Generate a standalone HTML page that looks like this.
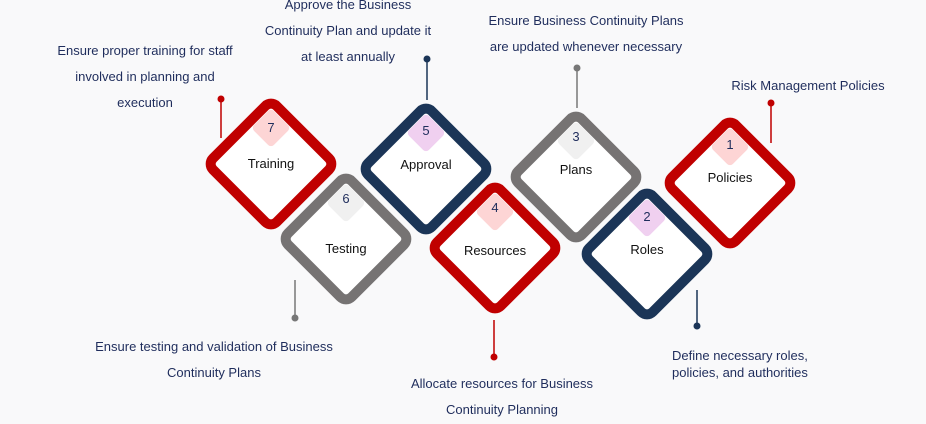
<!DOCTYPE html>
<html><head><meta charset="utf-8"><style>
html,body{margin:0;padding:0;background:#f9f9fa;}
svg{display:block;}
text{font-family:"Liberation Sans",sans-serif;}
.d{font-size:13px;fill:#1f2d5c;text-anchor:middle;}
.l{font-size:13px;fill:#111;text-anchor:middle;}
.n{font-size:13px;fill:#1f2d5c;text-anchor:middle;}
</style></head><body>
<svg width="926" height="424" viewBox="0 0 926 424" xmlns="http://www.w3.org/2000/svg">
<rect width="926" height="424" fill="#f9f9fa"/>
<g stroke-width="1.5">
<line x1="221" y1="99" x2="221" y2="138" stroke="#c00000"/>
<line x1="295" y1="280" x2="295" y2="318" stroke="#777"/>
<line x1="427" y1="59" x2="427" y2="100" stroke="#1b3557"/>
<line x1="494" y1="320" x2="494" y2="357" stroke="#c00000"/>
<line x1="577" y1="68" x2="577" y2="108" stroke="#777"/>
<line x1="697" y1="290" x2="697" y2="326" stroke="#1b3557"/>
<line x1="771" y1="103" x2="771" y2="143" stroke="#c00000"/>
</g>
<circle cx="221" cy="99" r="3.5" fill="#c00000"/>
<circle cx="295" cy="318" r="3.5" fill="#777"/>
<circle cx="427" cy="59" r="3.5" fill="#1b3557"/>
<circle cx="494" cy="357" r="3.5" fill="#c00000"/>
<circle cx="577" cy="68" r="3.5" fill="#777"/>
<circle cx="697" cy="326" r="3.5" fill="#1b3557"/>
<circle cx="771" cy="103" r="3.5" fill="#c00000"/>

<g transform="translate(271,164)">
<rect x="-45" y="-45" width="90" height="90" rx="8" transform="rotate(45)" fill="#fff" stroke="#c00000" stroke-width="10"/>
<rect x="-14" y="-14" width="28" height="28" rx="4" transform="translate(0,-36) rotate(45)" fill="#fdd5d5"/>
<text class="n" y="-32">7</text><text class="l" y="4">Training</text></g>
<g transform="translate(426,169)">
<rect x="-45" y="-45" width="90" height="90" rx="8" transform="rotate(45)" fill="#fff" stroke="#1b3557" stroke-width="10"/>
<rect x="-14" y="-14" width="28" height="28" rx="4" transform="translate(0,-36) rotate(45)" fill="#f0d0f0"/>
<text class="n" y="-34">5</text><text class="l" y="0">Approval</text></g>
<g transform="translate(346,239)">
<rect x="-45" y="-45" width="90" height="90" rx="8" transform="rotate(45)" fill="#fff" stroke="#767373" stroke-width="10"/>
<rect x="-14" y="-14" width="28" height="28" rx="4" transform="translate(0,-36) rotate(45)" fill="#f0f0f0"/>
<text class="n" y="-36">6</text><text class="l" y="14">Testing</text></g>
<g transform="translate(576,177)">
<rect x="-45" y="-45" width="90" height="90" rx="8" transform="rotate(45)" fill="#fff" stroke="#767373" stroke-width="10"/>
<rect x="-14" y="-14" width="28" height="28" rx="4" transform="translate(0,-36) rotate(45)" fill="#f0f0f0"/>
<text class="n" y="-36">3</text><text class="l" y="-3">Plans</text></g>
<g transform="translate(495,248)">
<rect x="-45" y="-45" width="90" height="90" rx="8" transform="rotate(45)" fill="#fff" stroke="#c00000" stroke-width="10"/>
<rect x="-14" y="-14" width="28" height="28" rx="4" transform="translate(0,-36) rotate(45)" fill="#fdd5d5"/>
<text class="n" y="-36">4</text><text class="l" y="7">Resources</text></g>
<g transform="translate(730,183)">
<rect x="-45" y="-45" width="90" height="90" rx="8" transform="rotate(45)" fill="#fff" stroke="#c00000" stroke-width="10"/>
<rect x="-14" y="-14" width="28" height="28" rx="4" transform="translate(0,-36) rotate(45)" fill="#fdd5d5"/>
<text class="n" y="-34">1</text><text class="l" y="-1">Policies</text></g>
<g transform="translate(647,254)">
<rect x="-45" y="-45" width="90" height="90" rx="8" transform="rotate(45)" fill="#fff" stroke="#1b3557" stroke-width="10"/>
<rect x="-14" y="-14" width="28" height="28" rx="4" transform="translate(0,-36) rotate(45)" fill="#f0d0f0"/>
<text class="n" y="-33">2</text><text class="l" y="0">Roles</text></g>

<text class="d" x="145" y="55">Ensure proper training for staff</text>
<text class="d" x="145" y="81">involved in planning and</text>
<text class="d" x="145" y="107">execution</text>
<text class="d" x="348" y="9">Approve the Business</text>
<text class="d" x="348" y="35">Continuity Plan and update it</text>
<text class="d" x="348" y="61">at least annually</text>
<text class="d" x="586" y="25">Ensure Business Continuity Plans</text>
<text class="d" x="586" y="51">are updated whenever necessary</text>
<text class="d" x="808" y="90">Risk Management Policies</text>
<text class="d" x="214" y="351">Ensure testing and validation of Business</text>
<text class="d" x="214" y="377">Continuity Plans</text>
<text class="d" x="502" y="388">Allocate resources for Business</text>
<text class="d" x="502" y="414">Continuity Planning</text>
<text class="d" x="672" y="360" style="text-anchor:start">Define necessary roles,</text>
<text class="d" x="672" y="377" style="text-anchor:start">policies, and authorities</text>
</svg>
</body></html>
